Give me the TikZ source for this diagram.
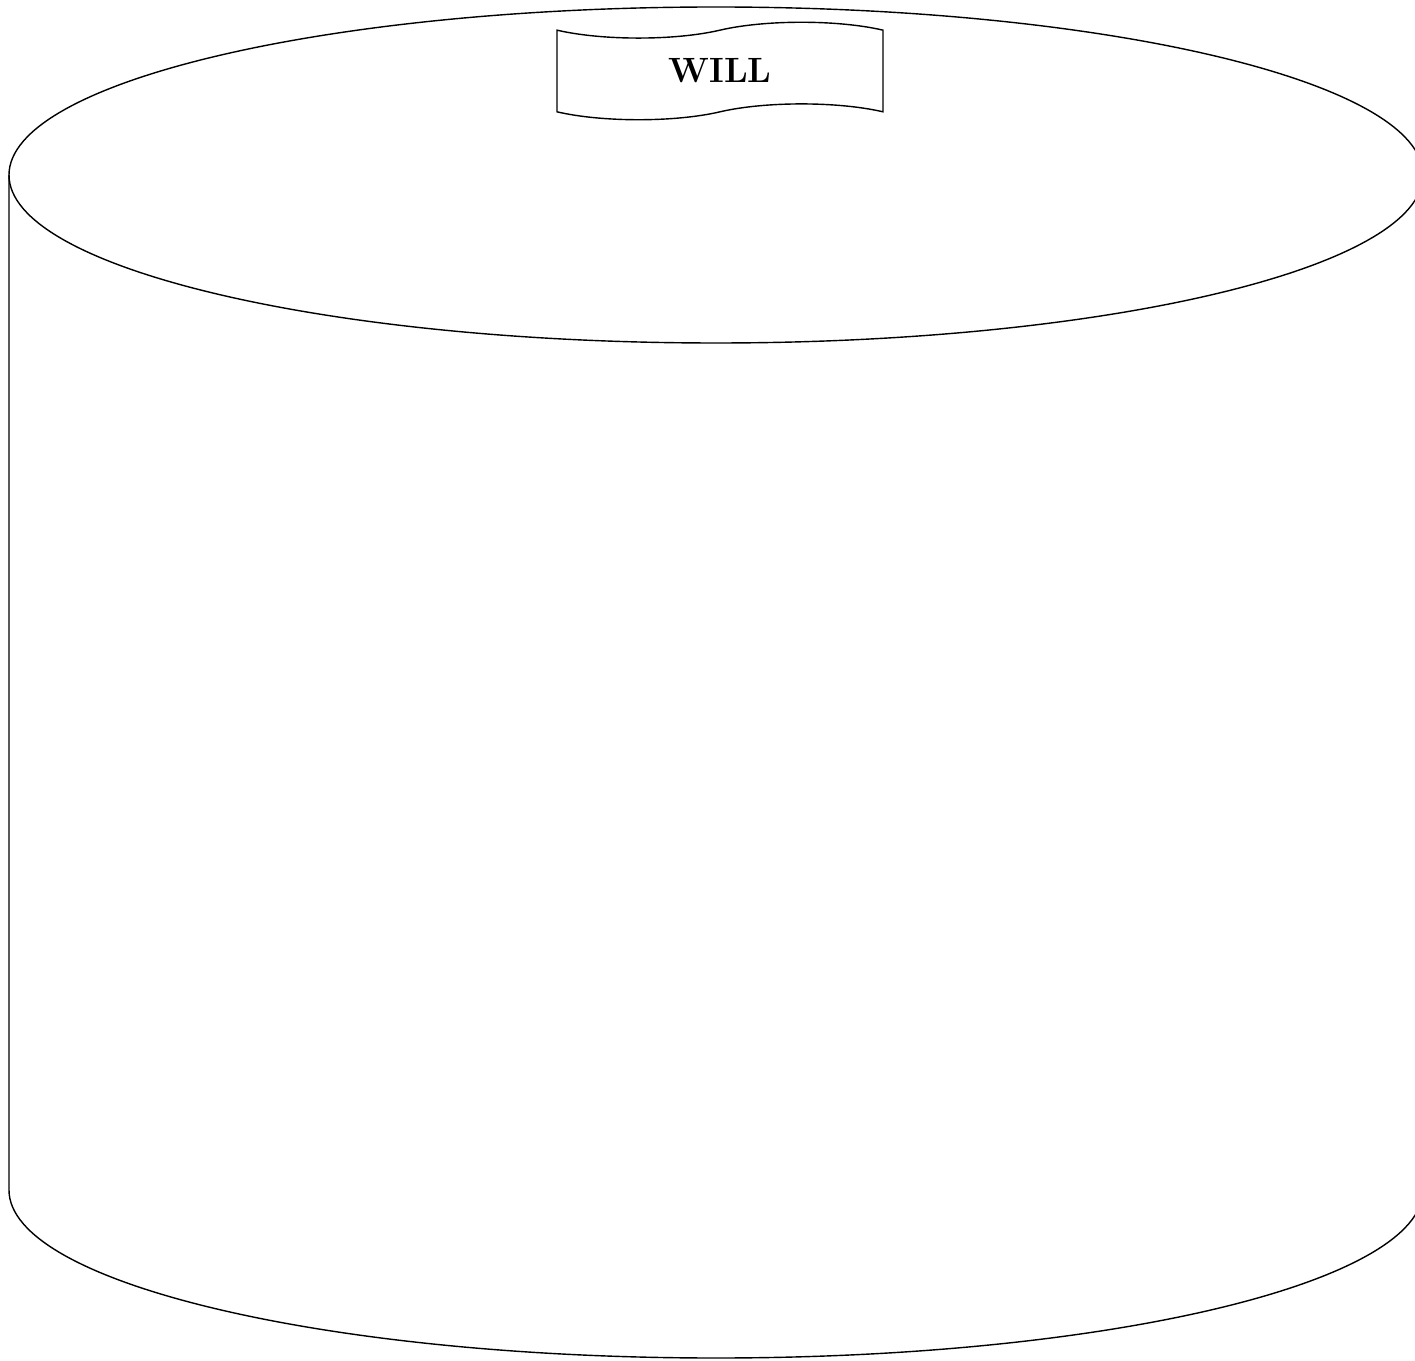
\documentclass[tikz,border=0pt]{standalone}
\usepackage{tikz}
\usetikzlibrary{shapes.symbols}
\usetikzlibrary{positioning}

\begin{document}
\begin{tikzpicture}[
  x=0.02cm,y=0.02cm,
  line width=0.8pt,
  banner/.style={tape,draw,line width=0.8pt,tape bend height=9pt,minimum width=6.52cm,minimum height=1.95cm,
    font=\fontsize{20}{24}\selectfont\bfseries}]
\useasboundingbox (0,0) rectangle (1415,1360);
% drum
\coordinate (top) at (716,1185);
\coordinate (bot) at (716,170);
\draw (9,1185) -- (9,170) arc[start angle=180,end angle=360,x radius=707,y radius=168] -- (1423,1185);
\draw (top) ellipse[x radius=707,y radius=168];
% label on the lid
\node[banner] (will) at (720,1289) {WILL};
\end{tikzpicture}
\end{document}
